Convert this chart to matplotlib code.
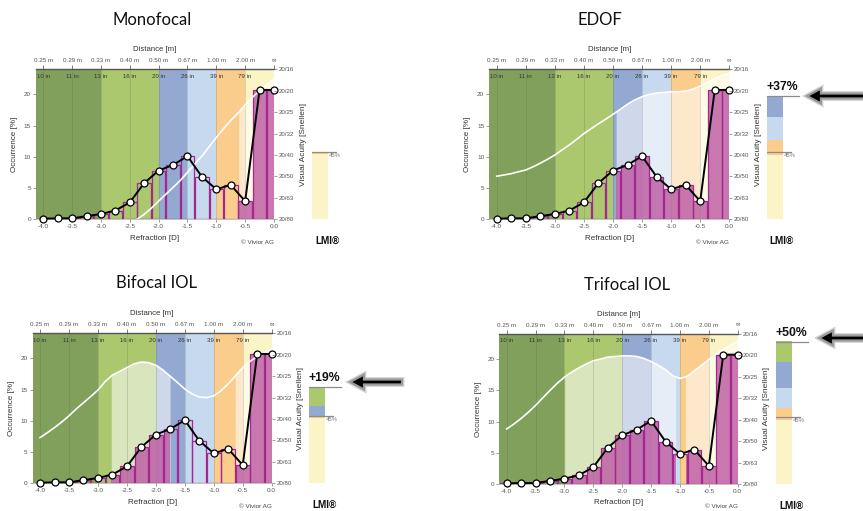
import numpy as np
import matplotlib
matplotlib.use("Agg")
import matplotlib.pyplot as plt
import matplotlib.patches as mpatches

plt.rcParams['font.family'] = ['Liberation Sans', 'DejaVu Sans']

W, H = 863, 511

# occurrence of refraction in the population (same for all four panels)
refraction = np.arange(-4.0, 0.01, 0.25)
occurrence = [0.1, 0.15, 0.15, 0.5, 0.85, 1.4, 2.7, 5.8, 7.8, 8.7, 10.1,
              6.8, 4.8, 5.5, 2.9, 20.7, 20.7]

# visual acuity curves, logMAR (0.6 = 20/80 ... -0.1 = 20/16)
va_x_mono = np.arange(-2.375, 0.01, 0.125)
va_mono = [0.600, 0.577, 0.548, 0.515, 0.483, 0.451, 0.419, 0.381, 0.343, 0.305,
           0.262, 0.218, 0.177, 0.139, 0.104, 0.066, 0.031, -0.001, -0.030, -0.053]
va_x = np.arange(-4.0, 0.01, 0.125)
va_edof = [0.399, 0.393, 0.387, 0.378, 0.370, 0.355, 0.338, 0.320, 0.300, 0.276,
           0.253, 0.227, 0.200, 0.177, 0.154, 0.133, 0.110, 0.087, 0.063, 0.043,
           0.028, 0.017, 0.011, 0.008, 0.005, 0.005, 0.002, -0.007, -0.021, -0.039,
           -0.056, -0.071, -0.080]
va_bifocal = [0.387, 0.364, 0.340, 0.314, 0.285, 0.253, 0.224, 0.195, 0.165, 0.125,
              0.095, 0.078, 0.060, 0.043, 0.034, 0.037, 0.049, 0.072, 0.101, 0.130,
              0.160, 0.183, 0.198, 0.200, 0.192, 0.168, 0.136, 0.098, 0.060, 0.031,
              0.008, -0.010, -0.027]
va_trifocal = [0.343, 0.320, 0.294, 0.265, 0.233, 0.198, 0.163, 0.130, 0.101, 0.078,
               0.058, 0.040, 0.025, 0.017, 0.008, 0.005, 0.002, 0.002, 0.005, 0.014,
               0.028, 0.046, 0.066, 0.095, 0.107, 0.098, 0.072, 0.046, 0.020, -0.007,
               -0.027, -0.048, -0.065]
va_good = 0.1  # 20/25

# LMI stacked bar parts (%): far, 1-2 m, intermediate, 50-67 cm, near
lmi_far = [43.5, 43.0, 43.4, 42.7]
lmi_far_mid = [1.5, 10.0, 1.6, 7.7]
lmi_inter = [0, 15.0, 0, 13.8]
lmi_inter_near = [0, 14.0, 6.5, 17.4]
lmi_near = [0, 0, 12.5, 13.4]
lmi_gain = [None, 37, 19, 50]

titles = ["Monofocal", "EDOF", "Bifocal IOL", "Trifocal IOL"]

band_edges = [-4.13, -3.0, -2.0, -1.5, -1.0, -0.5, 0.0]
band_colors = ['#80a05b', '#abc86f', '#93a9d1', '#c6d9ef', '#fbcd8c', '#fbf4c6']
lmi_colors = ['#fbf4c6', '#fbcd8c', '#c6d9ef', '#93a9d1', '#abc86f']

dist_ticks = np.arange(-4.0, 0.01, 0.5)
dist_m = ["0.25 m", "0.29 m", "0.33 m", "0.40 m", "0.50 m", "0.67 m", "1.00 m", "2.00 m", "∞"]
dist_in = ["10 in", "11 in", "13 in", "16 in", "20 in", "26 in", "39 in", "79 in"]
logmar_ticks = [0.6, 0.5, 0.4, 0.3, 0.2, 0.1, 0.0, -0.1]
snellen = ["20/80", "20/63", "20/50", "20/40", "20/32", "20/25", "20/20", "20/16"]

bar_edge = '#a3278f'
bar_fill = '#bd5ca4'


def lm_to_y(lm):
    return (0.6 - np.asarray(lm, dtype=float)) / 0.7 * 24


def good_spans(x, v, thr):
    # x ranges where acuity is at least thr (logMAR <= thr)
    spans = []
    start = x[0] if v[0] <= thr else None
    for i in range(1, len(x)):
        a, b = v[i - 1] - thr, v[i] - thr
        if (a > 0) != (b > 0):
            xc = x[i - 1] + (x[i] - x[i - 1]) * a / (a - b)
            if b <= 0:
                start = xc
            else:
                spans.append((start, xc))
                start = None
    if start is not None:
        spans.append((start, x[-1]))
    return spans


fig = plt.figure(figsize=(W / 100, H / 100), dpi=100)


def draw_panel(box, vx, va):
    l, t, r, b = box
    ax = fig.add_axes([l / W, 1 - b / H, (r - l) / W, (b - t) / H])
    ax.set_xlim(band_edges[0], 0)
    ax.set_ylim(0, 24)
    for i, c in enumerate(band_colors):
        ax.axvspan(band_edges[i], band_edges[i + 1], color=c, lw=0, zorder=0)

    va = np.asarray(va)
    vy = lm_to_y(va)
    for s0, s1 in good_spans(vx, va, va_good):
        m = (vx > s0) & (vx < s1)
        xs = np.r_[s0, vx[m], s1]
        ys = np.r_[np.interp(s0, vx, vy), vy[m], np.interp(s1, vx, vy)]
        ax.fill_between(xs, 0, ys, color='white', alpha=0.55, lw=0, zorder=1)
        filled = ax.bar(refraction, occurrence, width=0.235, color=bar_fill,
                        alpha=0.82, lw=0, zorder=2)
        clip = mpatches.Rectangle((s0, -1), s1 - s0, 30, transform=ax.transData)
        for p in filled:
            p.set_clip_path(clip)
    ax.bar(refraction, occurrence, width=0.235, facecolor='none',
           edgecolor=bar_edge, lw=0.9, zorder=2.5)

    for xg in dist_ticks[:-1]:
        ax.axvline(xg, color='#555555', lw=0.4, alpha=0.35, zorder=1.5)
    ax.plot(vx, vy, color='white', lw=1.2, zorder=3)
    ax.plot(refraction, occurrence, color='black', lw=1.4, marker='o', ms=5,
            mfc='white', mec='black', mew=0.9, zorder=4, clip_on=False)

    for xv, s in zip(dist_ticks, dist_in):
        ax.text(xv, 22.9, s, fontsize=4.4, ha='center', va='center',
                color='#333333', zorder=5)

    ax.set_xticks(dist_ticks)
    ax.set_xticklabels([f"{v:.1f}" for v in dist_ticks])
    ax.set_yticks([0, 5, 10, 15, 20])
    ax.tick_params(labelsize=4.6, length=2, width=0.5, color='#777777',
                   labelcolor='#555555', pad=1.5)
    ax.set_xlabel('Refraction [D]', fontsize=5.8, color='#333333', labelpad=4)
    ax.set_ylabel('Occurrence [%]', fontsize=5.8, color='#333333', labelpad=4)
    ax.text(1.0, -0.152, '© Vivior AG', transform=ax.transAxes, ha='right',
            va='center', fontsize=4.6, color='#444444')

    axr = ax.twinx()
    axr.set_ylim(0.6, -0.1)
    axr.set_yticks(logmar_ticks)
    axr.set_yticklabels(snellen)
    axr.tick_params(labelsize=4.4, length=2, width=0.5, color='#777777',
                    labelcolor='#555555', pad=1.5)
    axr.set_ylabel('Visual Acuity [Snellen]', fontsize=6, color='#333333', labelpad=4)

    axt = ax.twiny()
    axt.set_xlim(ax.get_xlim())
    axt.set_xticks(dist_ticks)
    axt.set_xticklabels(dist_m)
    axt.tick_params(labelsize=4.5, length=3, width=0.6, color='#666666',
                    labelcolor='#555555', pad=1.5)
    axt.set_xlabel('Distance [m]', fontsize=5.6, color='#333333', labelpad=5)

    for a in (ax, axr, axt):
        for s in a.spines.values():
            s.set_visible(False)
    axt.spines['top'].set_visible(True)
    axt.spines['top'].set_color('#555555')
    axt.spines['top'].set_linewidth(1.0)
    ax.spines['bottom'].set_visible(True)
    ax.spines['bottom'].set_color('#aaaaaa')
    ax.spines['bottom'].set_linewidth(0.5)


def draw_lmi(bar_left, bottom, top, k):
    bw = 16
    axl = fig.add_axes([bar_left / W, 1 - bottom / H, 2.2 * bw / W, (bottom - top) / H])
    axl.set_xlim(0, 2.2)
    axl.set_ylim(0, 100)
    axl.axis('off')
    parts = [lmi_far[k], lmi_far_mid[k], lmi_inter[k], lmi_inter_near[k], lmi_near[k]]
    base = 0
    for v, c in zip(parts, lmi_colors):
        if v > 0:
            axl.bar(0, v, bottom=base, width=1, align='edge', color=c, lw=0)
            base += v
    axl.plot([0, 1.5], [45, 45], color='#8c8c8c', lw=0.9)
    axl.text(1.05, 44, '45%', fontsize=4.3, color='#777777', ha='left', va='top')
    if lmi_gain[k]:
        axl.plot([0, 2.0], [base, base], color='#8c8c8c', lw=0.9)
        axl.text(0.95, base + 2, f'+{lmi_gain[k]}%', fontsize=8.8, weight='bold',
                 ha='center', va='bottom', color='#111111')
    axl.text(0.95, -14.5, 'LMI®', fontsize=7.2, weight='bold', ha='center',
             va='center', color='#111111', clip_on=False)


def draw_arrow(tip_x, tail_x, y):
    for ec, lw in (('#d4d4d4', 3.5), ('#9a9a9a', 1.6)):
        arr = mpatches.FancyArrow(tail_x / 100, (H - y) / 100, (tip_x - tail_x) / 100, 0,
                                  width=0.05, head_width=0.15, head_length=0.14,
                                  length_includes_head=True, transform=fig.dpi_scale_trans,
                                  facecolor='black', edgecolor=ec, lw=lw)
        fig.add_artist(arr)


panel_boxes = [(35.8, 69.3, 274, 219.3), (489.1, 69.3, 729.3, 219.3),
               (32.5, 333.3, 271.7, 483.3), (499.2, 334, 737.7, 484)]
panel_va = [(va_x_mono, va_mono), (va_x, va_edof), (va_x, va_bifocal), (va_x, va_trifocal)]
lmi_left = [312.3, 766.7, 309.3, 776]
title_pos = [(152, 20), (600, 20), (156, 283), (627, 285)]

for k in range(4):
    draw_panel(panel_boxes[k], *panel_va[k])
    l, t, r, b = panel_boxes[k]
    draw_lmi(lmi_left[k], b, t, k)
    fig.text(title_pos[k][0] / W, 1 - title_pos[k][1] / H, titles[k], fontsize=12,
             family=['Lato', 'DejaVu Sans'], ha='center', va='center', color='#111111')

draw_arrow(807, 866, 96)
draw_arrow(350, 402, 382)
draw_arrow(819, 870, 338)

fig.savefig('out.png', dpi=100, facecolor='white')
